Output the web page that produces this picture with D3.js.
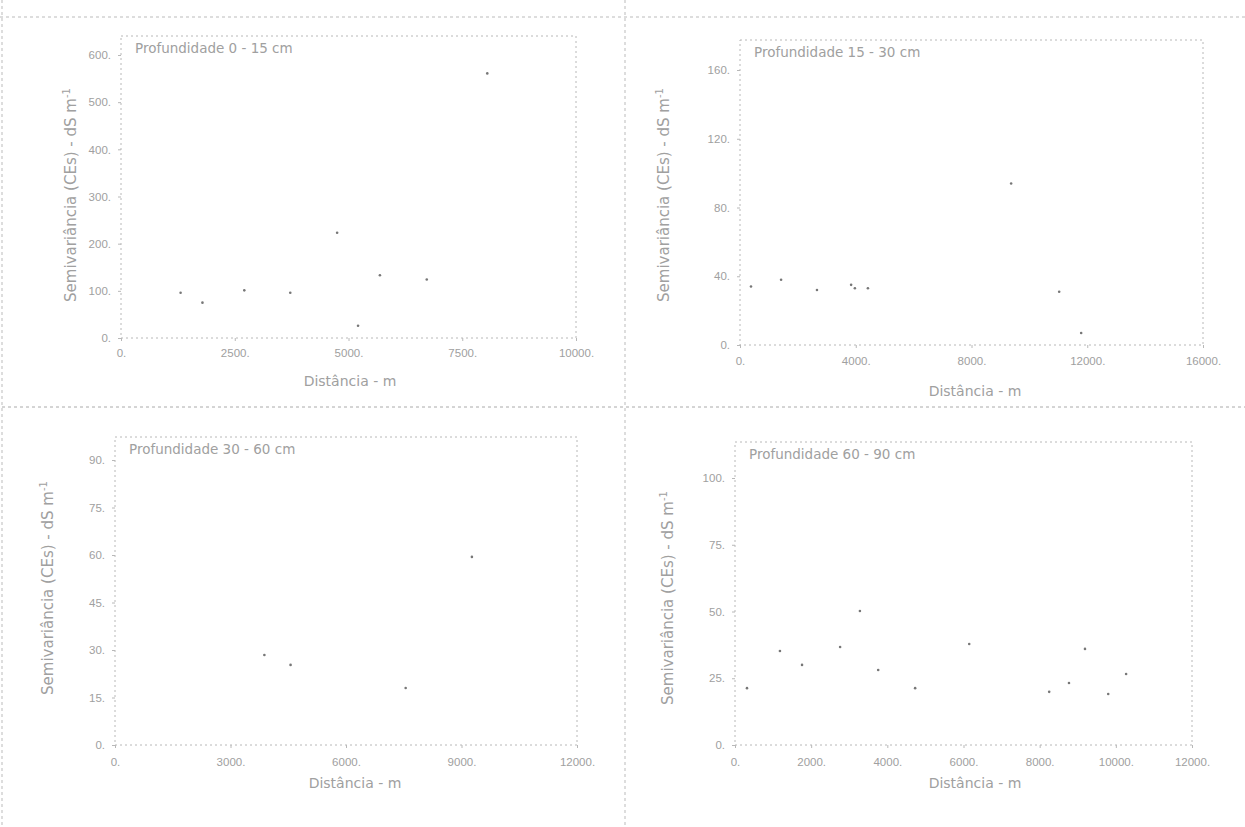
<!DOCTYPE html>
<html><head><meta charset="utf-8">
<script src="https://cdn.jsdelivr.net/npm/d3@7"></script>
<style>
body{margin:0;background:#fff;}
svg{display:block;font-family:"DejaVu Sans",sans-serif;}
</style></head>
<body><svg id="c" width="1245" height="827"></svg>
<script>
// ---------- data ----------
const titles = ["Profundidade  0 - 15 cm","Profundidade 15 - 30 cm","Profundidade 30 - 60 cm","Profundidade 60 - 90 cm"];
const yTitle = "Semivariância (CEs) - dS m";
const xTitle = "Distância - m";

const xTicks1 = [0,2500,5000,7500,10000];
const yTicks1 = [0,100,200,300,400,500,600];
const dist1  = [1310,1790,2710,3720,4750,5210,5690,6720,8050];
const gamma1 = [96,75,101,96,223,26,133,124,561];

const xTicks2 = [0,4000,8000,12000,16000];
const yTicks2 = [0,40,80,120,160];
const dist2  = [380,1420,2660,3840,3970,4420,9370,11030,11790];
const gamma2 = [34,38,32,35,33,33,94,31,7];

const xTicks3 = [0,3000,6000,9000,12000];
const yTicks3 = [0,15,30,45,60,75,90];
const dist3  = [3880,4560,7550,9270];
const gamma3 = [28.4,25.3,18.0,59.4];

const xTicks4 = [0,2000,4000,6000,8000,10000,12000];
const yTicks4 = [0,25,50,75,100];
const dist4  = [315,1180,1760,2760,3280,3760,4730,6150,8250,8770,9190,9800,10270];
const gamma4 = [21.3,35.2,30.0,36.7,50.2,28.1,21.3,37.8,19.9,23.2,36.0,19.1,26.6];

// ---------- layout ----------
const panels = [
  {title:titles[0], xt:xTicks1, yt:yTicks1, xs:dist1, ys:gamma1,
   left:121, right:576, top:36, base:338, yTopPix:55,
   ytx:76, yty:195, xtx:350, xty:386, tickLabY:353},
  {title:titles[1], xt:xTicks2, yt:yTicks2, xs:dist2, ys:gamma2,
   left:740, right:1203, top:40, base:345, yTopPix:70,
   ytx:669, yty:195, xtx:975, xty:396, tickLabY:361},
  {title:titles[2], xt:xTicks3, yt:yTicks3, xs:dist3, ys:gamma3,
   left:115, right:577, top:437, base:745, yTopPix:460,
   ytx:53, yty:588, xtx:355, xty:788, tickLabY:762},
  {title:titles[3], xt:xTicks4, yt:yTicks4, xs:dist4, ys:gamma4,
   left:735, right:1192, top:442, base:745, yTopPix:478,
   ytx:673, yty:598, xtx:975, xty:788, tickLabY:762}
];

const svg = d3.select("#c");
const lineCol = "#b8b8b8", textCol = "#a0a0a0";

// outer frame / separators
const sep = svg.append("g").attr("stroke","#bbb").attr("stroke-dasharray","3,3").attr("fill","none");
sep.append("line").attr("x1",2).attr("x2",2).attr("y1",0).attr("y2",827);
sep.append("line").attr("x1",0).attr("x2",1245).attr("y1",17).attr("y2",17);
sep.append("line").attr("x1",625).attr("x2",625).attr("y1",0).attr("y2",827);
sep.append("line").attr("x1",2).attr("x2",1245).attr("y1",407).attr("y2",407).attr("stroke","#aaa");

panels.forEach(p => {
  const x = d3.scaleLinear().domain([p.xt[0], p.xt[p.xt.length-1]]).range([p.left, p.right]);
  const y = d3.scaleLinear().domain([0, p.yt[p.yt.length-1]]).range([p.base, p.yTopPix]);
  const g = svg.append("g");

  // plot box
  g.append("rect").attr("x",p.left).attr("y",p.top)
    .attr("width",p.right-p.left).attr("height",p.base-p.top)
    .attr("fill","none").attr("stroke",lineCol).attr("stroke-dasharray","2,3");

  // y axis
  const ya = g.append("g").attr("transform",`translate(${p.left},0)`)
    .call(d3.axisLeft(y).tickValues(p.yt).tickFormat(d => d + ".").tickSize(3).tickPadding(7));
  ya.select(".domain").remove();
  ya.selectAll("line").attr("stroke",lineCol);
  ya.selectAll("text").attr("fill",textCol).attr("font-size",11.5);

  // x axis
  const xa = g.append("g").attr("transform",`translate(0,${p.base})`)
    .call(d3.axisBottom(x).tickValues(p.xt).tickFormat(d => d + ".").tickSize(3).tickPadding(0));
  xa.select(".domain").remove();
  xa.selectAll("line").attr("stroke",lineCol);
  xa.selectAll("text").attr("fill",textCol).attr("font-size",11.5)
    .attr("y", p.tickLabY - p.base).attr("dy","0.35em");

  // title
  g.append("text").attr("x",p.left+14).attr("y",p.top+17)
    .attr("fill",textCol).attr("font-size",13.5).text(p.title);

  // axis titles
  const yt = g.append("text").attr("transform",`translate(${p.ytx},${p.yty}) rotate(-90)`)
    .attr("text-anchor","middle").attr("fill",textCol).attr("font-size",15);
  yt.append("tspan").text(yTitle);
  yt.append("tspan").attr("font-size",10).attr("dy",-6).text("-1");
  g.append("text").attr("x",p.xtx).attr("y",p.xty).attr("text-anchor","middle")
    .attr("fill",textCol).attr("font-size",14).text(xTitle);

  // points
  g.selectAll("circle.pt").data(p.xs.map((d,i)=>[d,p.ys[i]])).join("circle")
    .attr("class","pt").attr("cx",d=>x(d[0])).attr("cy",d=>y(d[1]))
    .attr("r",1.3).attr("fill","#777");
});
</script></body></html>
